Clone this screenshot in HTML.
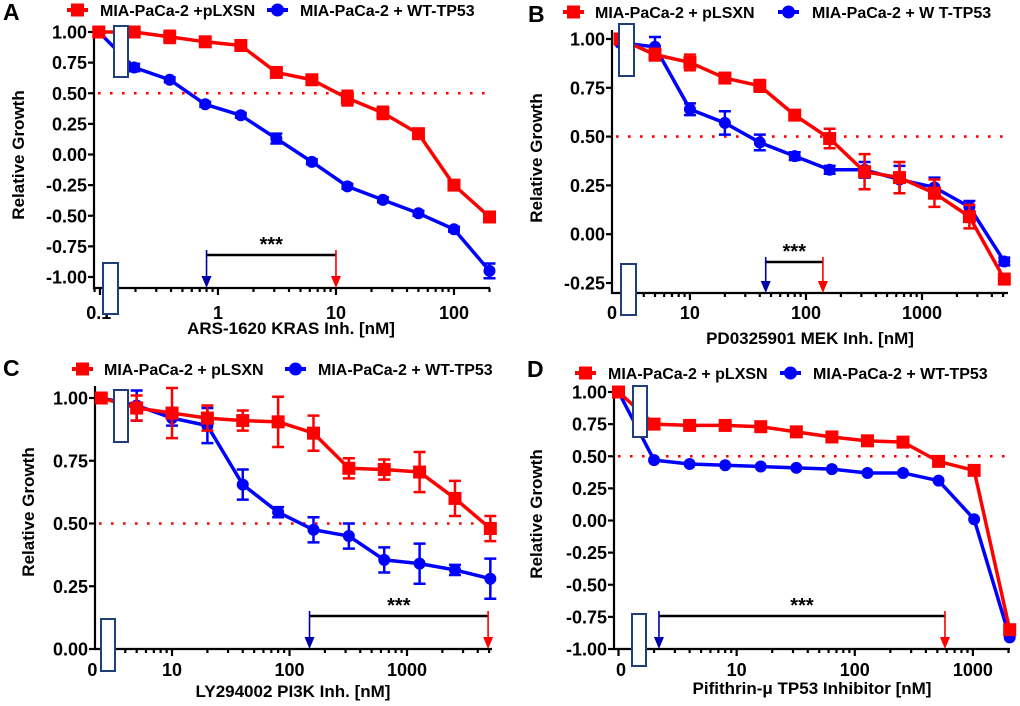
<!DOCTYPE html>
<html><head><meta charset="utf-8"><style>
body{margin:0;background:#fff;}
svg{display:block;font-family:"Liberation Sans",Arial,sans-serif;font-weight:bold;}
</style></head><body>
<svg id="fig" width="1020" height="706" viewBox="0 0 1020 706"></svg>
<script>
// Panel A data
const concA = [0.0977,0.195,0.39,0.78,1.5625,3.125,6.25,12.5,25,50,100,200];
const redA  = [1.00,1.00,0.96,0.92,0.89,0.67,0.61,0.46,0.34,0.17,-0.25,-0.51];
const redErrA = [0,0,0.05,0.02,0.02,0.04,0.02,0.06,0.05,0.04,0.02,0.02];
const blueA = [1.00,0.71,0.61,0.41,0.32,0.13,-0.06,-0.26,-0.37,-0.48,-0.61,-0.95];
const blueErrA = [0,0.03,0.02,0.02,0.02,0.04,0.02,0.02,0.02,0.02,0.02,0.06];
const yTicksA = [1.00,0.75,0.50,0.25,0.00,-0.25,-0.50,-0.75,-1.00];
const xLabelsA = ["0.1","1","10","100"];
const xLabelValsA = [0.0977,1,10,100];
const sigA = [0.8,10];
// Panel B data
const concB = [2.5,5,10,20,40,80,160,320,640,1280,2560,5120];
const redB  = [1.00,0.92,0.88,0.80,0.76,0.61,0.49,0.32,0.29,0.21,0.09,-0.23];
const redErrB = [0,0.03,0.04,0.02,0.03,0.02,0.05,0.09,0.08,0.07,0.06,0.02];
const blueB = [0.98,0.96,0.64,0.57,0.47,0.40,0.33,0.33,0.28,0.24,0.14,-0.14];
const blueErrB = [0,0.05,0.03,0.06,0.04,0.02,0.02,0.04,0.07,0.05,0.03,0.02];
const yTicksB = [1.00,0.75,0.50,0.25,0.00,-0.25];
const xLabelsB = ["0","10","100","1000"];
const xLabelValsB = [2.13,10,100,1000];
const sigB = [45,140];
// Panel C data
const concC = [2.5,5,10,20,40,80,160,320,640,1280,2560,5120];
const redC  = [1.00,0.96,0.94,0.92,0.91,0.905,0.86,0.72,0.715,0.705,0.60,0.48];
const redErrC = [0,0.05,0.10,0.05,0.04,0.10,0.07,0.04,0.04,0.08,0.07,0.05];
const blueC = [1.00,0.97,0.92,0.89,0.655,0.545,0.475,0.45,0.355,0.34,0.315,0.28];
const blueErrC = [0,0.06,0.03,0.07,0.06,0.02,0.05,0.05,0.05,0.08,0.02,0.08];
const yTicksC = [1.00,0.75,0.50,0.25,0.00];
const xLabelsC = ["0","10","100","1000"];
const xLabelValsC = [2.1,10,100,1000];
const sigC = [148,4900];
// Panel D data
const concD = [1,2,4,8,16,32,64,128,256,512,1024,2048];
const redD  = [1.00,0.75,0.74,0.74,0.73,0.69,0.65,0.62,0.61,0.46,0.39,-0.85];
const redErrD = [0,0,0,0,0,0,0,0,0,0,0,0];
const blueD = [1.00,0.47,0.44,0.43,0.42,0.41,0.40,0.37,0.37,0.31,0.01,-0.91];
const blueErrD = [0,0,0,0,0,0,0,0,0,0,0,0];
const yTicksD = [1.00,0.75,0.50,0.25,0.00,-0.25,-0.50,-0.75,-1.00];
const xLabelsD = ["0","10","100","1000"];
const xLabelValsD = [1.05,10,100,1000];
const sigD = [2.2,580];

const NS="http://www.w3.org/2000/svg";
const svg=document.getElementById('fig');
function mk(tag,attrs,parent){const e=document.createElementNS(NS,tag);for(const k in attrs)e.setAttribute(k,attrs[k]);(parent||svg).appendChild(e);return e;}

function panel(cfg){
  const g=mk('g',{});
  
  
  const lx0=Math.log10(cfg.xdom[0]),lx1=Math.log10(cfg.xdom[1]);
  const X=c=>cfg.xl+(Math.log10(c)-lx0)/(lx1-lx0)*(cfg.xr-cfg.xl);
  const Y=v=>cfg.py0+(v-cfg.yv0)/(cfg.yv1-cfg.yv0)*(cfg.py1-cfg.py0);
  const L=mk('text',{x:cfg.letter[0],y:cfg.letter[1],'font-size':23,fill:'#000'},g);L.textContent=cfg.id;
  
  
  const lg=mk('g',{},g);
  
  
  const ly=cfg.leg[0];
  mk('line',{x1:cfg.leg[1],x2:cfg.leg[1]+21,y1:ly,y2:ly,stroke:'#f00','stroke-width':4},lg);
  mk('rect',{x:cfg.leg[1]+4,y:ly-6.5,width:13,height:13,fill:'#f00'},lg);
  const t1=mk('text',{x:cfg.leg[2],y:ly+6,'font-size':16},lg);t1.textContent=cfg.redName;
  
  
  mk('line',{x1:cfg.leg[3],x2:cfg.leg[3]+21,y1:ly,y2:ly,stroke:'#00f','stroke-width':4},lg);
  mk('circle',{cx:cfg.leg[3]+10.5,cy:ly,r:6.5,fill:'#00f'},lg);
  const t2=mk('text',{x:cfg.leg[4],y:ly+6,'font-size':16},lg);t2.textContent=cfg.blueName;
  
  
  const ax=mk('g',{stroke:'#000','stroke-width':2.2},g);
  
  
  mk('line',{x1:cfg.xl,x2:cfg.xl,y1:cfg.ytop,y2:cfg.xaxY+1},ax);
  mk('line',{x1:cfg.xl-1,x2:cfg.xr,y1:cfg.xaxY,y2:cfg.xaxY},ax);
  cfg.yTicks.forEach(v=>{
    const y=Y(v);
    mk('line',{x1:cfg.xl-6,x2:cfg.xl,y1:y,y2:y},ax);
    const t=mk('text',{x:cfg.xl-7,y:y+6.5,'font-size':18,'text-anchor':'end',stroke:'none'},g);
    t.textContent=v.toFixed(2);
    
    
  });
  for(let d=Math.floor(lx0);d<=Math.ceil(lx1);d++){
    for(let m=1;m<10;m++){
      const c=m*Math.pow(10,d);
      if(c<cfg.xdom[0]||c>cfg.xdom[1])continue;
      const x=X(c);
      mk('line',{x1:x,x2:x,y1:cfg.xaxY,y2:cfg.xaxY+(m===1?7:4)},ax);
    }
  }
  cfg.xLabels.forEach((s,i)=>{
    const t=mk('text',{x:X(cfg.xLabelVals[i]),y:cfg.xlabY,'font-size':18,'text-anchor':'middle'},g);
    t.textContent=s;
    
    
  });
  const xt=mk('text',{x:cfg.xt[0],y:cfg.xt[1],'font-size':17,'text-anchor':'middle'},g);xt.textContent=cfg.xTitle;
  
  
  const yt=mk('text',{x:0,y:0,'font-size':17,'text-anchor':'middle',transform:`translate(${cfg.yt[0]},${cfg.yt[1]}) rotate(-90)`},g);yt.textContent='Relative Growth';
  
  
  const dl=mk('line',{x1:cfg.xl+4,x2:cfg.xr,y1:Y(0.5),y2:Y(0.5),stroke:'#f00','stroke-width':2.6,'stroke-dasharray':'2.6 9.4'},g);
  
  
  function series(vals,errs,color,shape,name){
    const sg=mk('g',{},g);
    
    
    mk('polyline',{points:cfg.conc.map((c,i)=>X(c)+','+Y(vals[i])).join(' '),fill:'none',stroke:color,'stroke-width':3.5,'stroke-linejoin':'round'},sg);
    cfg.conc.forEach((c,i)=>{
      const x=X(c),y=Y(vals[i]);
      if(errs[i]>0){
        const e=mk('path',{d:`M${x},${Y(vals[i]+errs[i])}V${Y(vals[i]-errs[i])}M${x-6},${Y(vals[i]+errs[i])}h12M${x-6},${Y(vals[i]-errs[i])}h12`,stroke:color,'stroke-width':2.5,fill:'none'},sg);
        
        
      }
      let m;
      if(shape==='sq') m=mk('rect',{x:x-6.5,y:y-6.5,width:13,height:13,fill:color},sg);
      else m=mk('circle',{cx:x,cy:y,r:6,fill:color},sg);
      
      
    });
  }
  series(cfg.blue,cfg.blueErr,'#00f','ci','series-wt-tp53');
  series(cfg.red,cfg.redErr,'#f00','sq','series-plxsn');
  const sgg=mk('g',{},g);
  
  
  const bx=X(cfg.sig[0]),rx=X(cfg.sig[1]),by=cfg.sigY;
  mk('line',{x1:bx,x2:rx,y1:by,y2:by,stroke:'#000','stroke-width':2.6},sgg);
  mk('line',{x1:bx,x2:bx,y1:by-5,y2:cfg.xaxY-8,stroke:'#00a','stroke-width':1.6},sgg);
  mk('path',{d:`M${bx-5},${cfg.xaxY-12}L${bx+5},${cfg.xaxY-12}L${bx},${cfg.xaxY}Z`,fill:'#00a'},sgg);
  mk('line',{x1:rx,x2:rx,y1:by-5,y2:cfg.xaxY-8,stroke:'#f00','stroke-width':1.6},sgg);
  mk('path',{d:`M${rx-5},${cfg.xaxY-12}L${rx+5},${cfg.xaxY-12}L${rx},${cfg.xaxY}Z`,fill:'#f00'},sgg);
  const st=mk('text',{x:(bx+rx)/2,y:by-4,'font-size':20,'text-anchor':'middle'},sgg);st.textContent='***';
  cfg.boxes.forEach(b=>{
    const r=mk('rect',{x:b[0],y:b[1],width:b[2],height:b[3],fill:'#fff',stroke:'#1f3f7a','stroke-width':2},g);
    
    
  });
}

panel({id:'A',conc:concA,red:redA,redErr:redErrA,blue:blueA,blueErr:blueErrA,yTicks:yTicksA,xLabels:xLabelsA,xLabelVals:xLabelValsA,sig:sigA,
  xdom:[0.089,202],xl:94,xr:490,yv0:1,py0:32,yv1:-1,py1:277,ytop:26,xaxY:288,xlabY:319,
  letter:[3,20],leg:[10,67,100,267,300],redName:'MIA-PaCa-2 +pLXSN',blueName:'MIA-PaCa-2 + WT-TP53',
  xt:[291,334],xTitle:'ARS-1620 KRAS Inh. [nM]',yt:[24,155],sigY:255,boxes:[[114,26,14,51],[103,263,15,51]]});
panel({id:'B',conc:concB,red:redB,redErr:redErrB,blue:blueB,blueErr:blueErrB,yTicks:yTicksB,xLabels:xLabelsB,xLabelVals:xLabelValsB,sig:sigB,
  xdom:[2.13,5510],xl:612,xr:1008,yv0:1,py0:39,yv1:-0.25,py1:283,ytop:30,xaxY:293,xlabY:319,
  letter:[528,22],leg:[12,563,595,778,812],redName:'MIA-PaCa-2 + pLSXN',blueName:'MIA-PaCa-2 + W T-TP53',
  xt:[810,344],xTitle:'PD0325901 MEK Inh. [nM]',yt:[542,158],sigY:262,boxes:[[619,24,15,52],[621,264,15,51]]});
panel({id:'C',conc:concC,red:redC,redErr:redErrC,blue:blueC,blueErr:blueErrC,yTicks:yTicksC,xLabels:xLabelsC,xLabelVals:xLabelValsC,sig:sigC,
  xdom:[2.21,5290],xl:95,xr:492,yv0:1,py0:398,yv1:0,py1:649,ytop:386,xaxY:649,xlabY:676,
  letter:[3,376],leg:[369,72,104,285,318],redName:'MIA-PaCa-2 + pLSXN',blueName:'MIA-PaCa-2 + WT-TP53',
  xt:[293,697],xTitle:'LY294002 PI3K Inh. [nM]',yt:[34,512],sigY:616,boxes:[[114,390,14,52],[101,619,14,52]]});
panel({id:'D',conc:concD,red:redD,redErr:redErrD,blue:blueD,blueErr:blueErrD,yTicks:yTicksD,xLabels:xLabelsD,xLabelVals:xLabelValsD,sig:sigD,
  xdom:[0.916,2060],xl:614,xr:1010,yv0:1,py0:392,yv1:-1,py1:649,ytop:386,xaxY:649,xlabY:676,
  letter:[527,377],leg:[373,575,608,780,813],redName:'MIA-PaCa-2 + pLXSN',blueName:'MIA-PaCa-2 + WT-TP53',
  xt:[812,694],xTitle:'Pifithrin-\u03bc TP53 Inhibitor [nM]',yt:[542,514],sigY:616,boxes:[[633,386,14,51],[632,614,14,52]]});
</script>
</body></html>
